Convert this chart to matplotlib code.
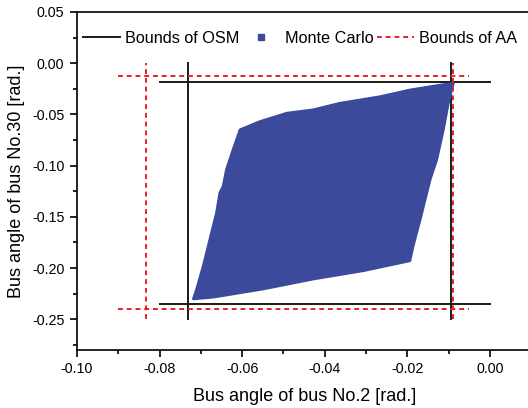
import numpy as np
import matplotlib
import matplotlib.pyplot as plt
from matplotlib.ticker import MultipleLocator, FuncFormatter
from matplotlib.lines import Line2D
matplotlib.use('Agg')

plt.rcParams['font.family'] = ['Liberation Sans', 'DejaVu Sans']

# Bounds of OSM (black solid)
osm_x = [-0.0731, -0.0094]
osm_y = [-0.235, -0.0187]
osm_vspan = [-0.25, 0.0]
osm_hspan = [-0.08, 0.0]

# Bounds of AA (red dashed)
aa_x = [-0.0833, -0.0090]
aa_y = [-0.240, -0.0123]
aa_vspan = [-0.25, 0.0]
aa_hspan = [-0.09, -0.005]

# outline of the Monte Carlo cloud
mc_x = [-0.0089, -0.0101, -0.0113, -0.0129, -0.0145, -0.0153, -0.0169, -0.0186, -0.0194,
        -0.0307, -0.0428, -0.0549, -0.0670, -0.0718,
        -0.0710, -0.0694, -0.0678, -0.0662, -0.0654, -0.0646, -0.0638, -0.0622, -0.0605,
        -0.0557, -0.0492, -0.0429, -0.0363, -0.0266, -0.0194, -0.0121]
mc_y = [-0.0197, -0.0391, -0.0650, -0.0942, -0.1136, -0.1265, -0.1524, -0.1783, -0.1929,
        -0.2026, -0.2107, -0.2204, -0.2284, -0.2301,
        -0.2204, -0.1978, -0.1718, -0.1459, -0.1265, -0.1201, -0.1039, -0.0845, -0.0650,
        -0.0570, -0.0488, -0.0456, -0.0391, -0.0327, -0.0262, -0.0214]

blue = '#3c4a9b'
red = '#e8202a'

fig = plt.figure(figsize=(5.28, 4.08), dpi=100)
ax = fig.add_axes([0.1458, 0.1422, 0.8604, 0.8284])

for x in osm_x:
    ax.plot([x, x], osm_vspan, color='#1a1a1a', lw=1.4, zorder=2)
for y in osm_y:
    ax.plot(osm_hspan, [y, y], color='#1a1a1a', lw=1.4, zorder=2)

ax.fill(mc_x, mc_y, facecolor=blue, edgecolor=blue, lw=2, joinstyle='round', zorder=3)

for x in aa_x:
    ax.plot([x, x], aa_vspan, color=red, lw=1.4, ls=(0, (2.5, 2)), zorder=4)
for y in aa_y:
    ax.plot(aa_hspan, [y, y], color=red, lw=1.4, ls=(0, (2.5, 2)), zorder=4)

fmt = FuncFormatter(lambda v, p: '%.2f' % (0.0 if abs(v) < 1e-9 else v))

ax.set_xlim(-0.10, 0.01)
ax.set_ylim(-0.28, 0.05)
ax.xaxis.set_major_locator(MultipleLocator(0.02))
ax.xaxis.set_minor_locator(MultipleLocator(0.01))
ax.yaxis.set_major_locator(MultipleLocator(0.05))
ax.yaxis.set_minor_locator(MultipleLocator(0.025))
ax.xaxis.set_major_formatter(fmt)
ax.yaxis.set_major_formatter(fmt)
ax.tick_params(which='major', direction='out', length=5, width=1.2, labelsize=10.3, pad=4)
ax.tick_params(which='minor', direction='out', length=3, width=1.2)
for s in ax.spines.values():
    s.set_linewidth(1.2)

ax.set_xlabel('Bus angle of bus No.2 [rad.]', fontsize=13, labelpad=8)
ax.set_ylabel('Bus angle of bus No.30 [rad.]', fontsize=13, labelpad=5)

handles = [Line2D([], [], color='#1a1a1a', lw=1.4),
           Line2D([], [], color=blue, marker='s', ls='none', markersize=4),
           Line2D([], [], color=red, lw=1.4, ls=(0, (2.5, 2)))]
ax.legend(handles, ['Bounds of OSM', 'Monte Carlo', 'Bounds of AA'], ncol=3,
          loc='upper left', bbox_to_anchor=(-0.002, 0.964), frameon=False,
          fontsize=11.7, handlelength=2.3, handletextpad=0.3, columnspacing=0.2,
          borderaxespad=0)

fig.savefig('out.png', dpi=100)
